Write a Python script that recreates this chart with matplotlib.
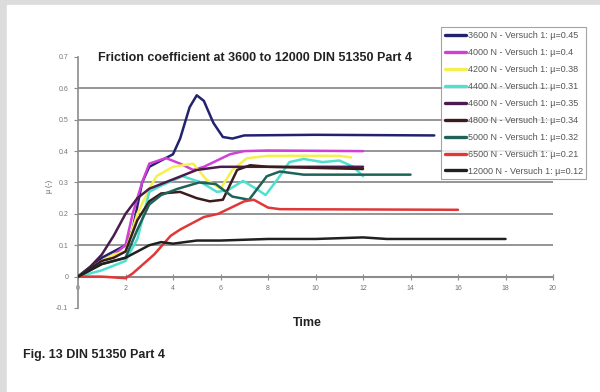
import matplotlib.pyplot as plt
from matplotlib.patches import Rectangle

# values (time, mu)
t_3600 = [0, 1, 1.5, 2, 2.3, 2.7, 3, 3.5, 4, 4.3, 4.7, 5, 5.3, 5.7, 6.1, 6.5, 7, 10, 15]
mu_3600 = [0, 0.06, 0.08, 0.1, 0.15, 0.3, 0.35, 0.37, 0.39, 0.44, 0.54, 0.578, 0.56, 0.49, 0.445, 0.44, 0.45, 0.452, 0.45]

t_4000 = [0, 1, 1.5, 2, 2.3, 2.7, 3, 3.7, 4.3, 4.85, 5.3, 5.85, 6.4, 7, 8, 12]
mu_4000 = [0, 0.05, 0.07, 0.1, 0.2, 0.3, 0.36, 0.378, 0.36, 0.34, 0.35, 0.37, 0.39, 0.4, 0.402, 0.4]

t_4200 = [0, 1, 1.5, 2, 2.5, 3, 3.3, 4, 4.85, 5.4, 6, 6.5, 7.1, 8, 11, 11.5]
mu_4200 = [0, 0.05, 0.07, 0.08, 0.2, 0.28, 0.32, 0.35, 0.36, 0.31, 0.28, 0.34, 0.377, 0.385, 0.385, 0.38]

t_4400 = [0, 1, 2, 2.5, 3, 3.5, 4.4, 5.2, 5.85, 6.3, 6.95, 7.5, 7.9, 8.4, 8.9, 9.5, 10.3, 11, 11.6, 12]
mu_4400 = [0, 0.02, 0.05, 0.12, 0.27, 0.29, 0.32, 0.3, 0.27, 0.275, 0.305, 0.28, 0.26, 0.31, 0.365, 0.375, 0.365, 0.37, 0.35, 0.32]

t_4600 = [0, 0.5, 1, 1.5, 2, 2.5, 3, 4, 5, 6, 12]
mu_4600 = [0, 0.03, 0.07, 0.13, 0.2, 0.25, 0.28, 0.31, 0.34, 0.35, 0.35]

t_4800 = [0, 1, 1.5, 2, 2.5, 3, 3.5, 4.3, 5, 5.55, 6.1, 6.7, 7.25, 8, 12]
mu_4800 = [0, 0.05, 0.06, 0.08, 0.18, 0.24, 0.265, 0.27, 0.25, 0.24, 0.245, 0.34, 0.355, 0.35, 0.343]

t_5000 = [0, 1, 1.5, 2, 2.5, 3, 3.5, 4.2, 5.1, 5.8, 6.5, 7.2, 7.95, 8.5, 9.5, 14]
mu_5000 = [0, 0.04, 0.05, 0.06, 0.15, 0.23, 0.26, 0.28, 0.3, 0.295, 0.255, 0.245, 0.32, 0.335, 0.325, 0.325]

t_6500 = [0, 1, 2, 2.3, 3.2, 3.9, 4.3, 5.3, 5.9, 7, 7.4, 8, 8.5, 16]
mu_6500 = [0, 0, -0.005, 0.01, 0.07, 0.13, 0.15, 0.19, 0.2, 0.24, 0.245, 0.22, 0.215, 0.213]

t_12000 = [0, 1, 1.5, 2, 2.5, 3, 3.5, 4, 5, 6, 8, 10, 12, 13, 18]
mu_12000 = [0, 0.04, 0.05, 0.06, 0.08, 0.1, 0.11, 0.105, 0.115, 0.115, 0.12, 0.12, 0.125, 0.12, 0.12]

labels = ['3600 N - Versuch 1: µ=0.45', '4000 N - Versuch 1: µ=0.4', '4200 N - Versuch 1: µ=0.38',
          '4400 N - Versuch 1: µ=0.31', '4600 N - Versuch 1: µ=0.35', '4800 N - Versuch 1: µ=0.34',
          '5000 N - Versuch 1: µ=0.32', '6500 N - Versuch 1: µ=0.21', '12000 N - Versuch 1: µ=0.12']
colores = ['#22226e', '#d040d8', '#f4f050', '#50e0d0', '#4a1c4e', '#3a1c1c', '#1e6258', '#e03838', '#202020']

series = [(t_3600, mu_3600), (t_4000, mu_4000), (t_4200, mu_4200), (t_4400, mu_4400),
          (t_4600, mu_4600), (t_4800, mu_4800), (t_5000, mu_5000), (t_6500, mu_6500),
          (t_12000, mu_12000)]

x_ticks = [0, 2, 4, 6, 8, 10, 12, 14, 16, 18, 20]
y_ticks = [-0.1, 0, 0.1, 0.2, 0.3, 0.4, 0.5, 0.6, 0.7]
y_tick_labels = ['-0.1', '0', '0.1', '0.2', '0.3', '0.4', '0.5', '0.6', '0.7']


def grafica():
    plt.rcParams['font.family'] = ['Liberation Sans', 'DejaVu Sans']
    fig = plt.figure(figsize=(6, 3.92), dpi=100)

    # gray frame at left and top
    fig.patches.append(Rectangle((0, 0), 1, 1, transform=fig.transFigure, color='#dcdcdc', zorder=-2))
    fig.patches.append(Rectangle((0.011, 0), 0.989, 0.987, transform=fig.transFigure,
                                 color='white', zorder=-1))

    ax = fig.add_axes([0.13, 0.2143, 0.7917, 0.6403])
    ax.set_xlim(0, 20)
    ax.set_ylim(-0.1, 0.7)

    for yy in [0.1, 0.2, 0.3, 0.4, 0.5, 0.6]:
        ax.axhline(yy, color='#8c8c8c', lw=1.3, zorder=1)

    for (t, mu), lab, c in zip(series, labels, colores):
        ax.plot(t, mu, color=c, lw=1.8, label=lab, zorder=3, solid_capstyle='round')

    for s in ['top', 'right']:
        ax.spines[s].set_visible(False)
    ax.spines['bottom'].set_position(('data', 0))
    ax.spines['bottom'].set_color('#8c8c8c')
    ax.spines['bottom'].set_linewidth(1.5)
    ax.spines['left'].set_color('#8c8c8c')
    ax.spines['left'].set_linewidth(1.2)

    ax.set_xticks(x_ticks)
    ax.set_yticks(y_ticks)
    ax.set_yticklabels(y_tick_labels)
    ax.tick_params(axis='x', direction='inout', length=4, width=0.8, colors='#8c8c8c',
                   labelsize=5, labelcolor='#777777', pad=4)
    ax.tick_params(axis='y', direction='out', length=3, width=0.8, colors='#8c8c8c',
                   labelsize=5, labelcolor='#777777', pad=4)

    fig.text(0.425, 0.852, 'Friction coefficient at 3600 to 12000 DIN 51350 Part 4',
             ha='center', va='center', fontsize=9, fontweight='bold', color='#222222')
    fig.text(0.083, 0.525, 'µ (-)', ha='center', va='center', rotation=90,
             fontsize=5, color='#555555')
    fig.text(0.513, 0.175, 'Time', ha='center', va='center', fontsize=9,
             fontweight='bold', color='#222222')
    fig.text(0.038, 0.094, 'Fig. 13 DIN 51350 Part 4', ha='left', va='center',
             fontsize=9, fontweight='bold', color='#222222')

    leg = fig.legend(loc='upper left', bbox_to_anchor=(0.735, 0.93), fontsize=6.5,
                     frameon=True, fancybox=False, edgecolor='#8c8c8c', handlelength=2.4,
                     handletextpad=0.15, labelspacing=0.88, borderpad=0.4, borderaxespad=0)
    leg.get_frame().set_linewidth(0.8)
    for line in leg.get_lines():
        line.set_linewidth(2.4)
    for txt in leg.get_texts():
        txt.set_color('#555555')

    fig.savefig('out.png', dpi=100)


grafica()
